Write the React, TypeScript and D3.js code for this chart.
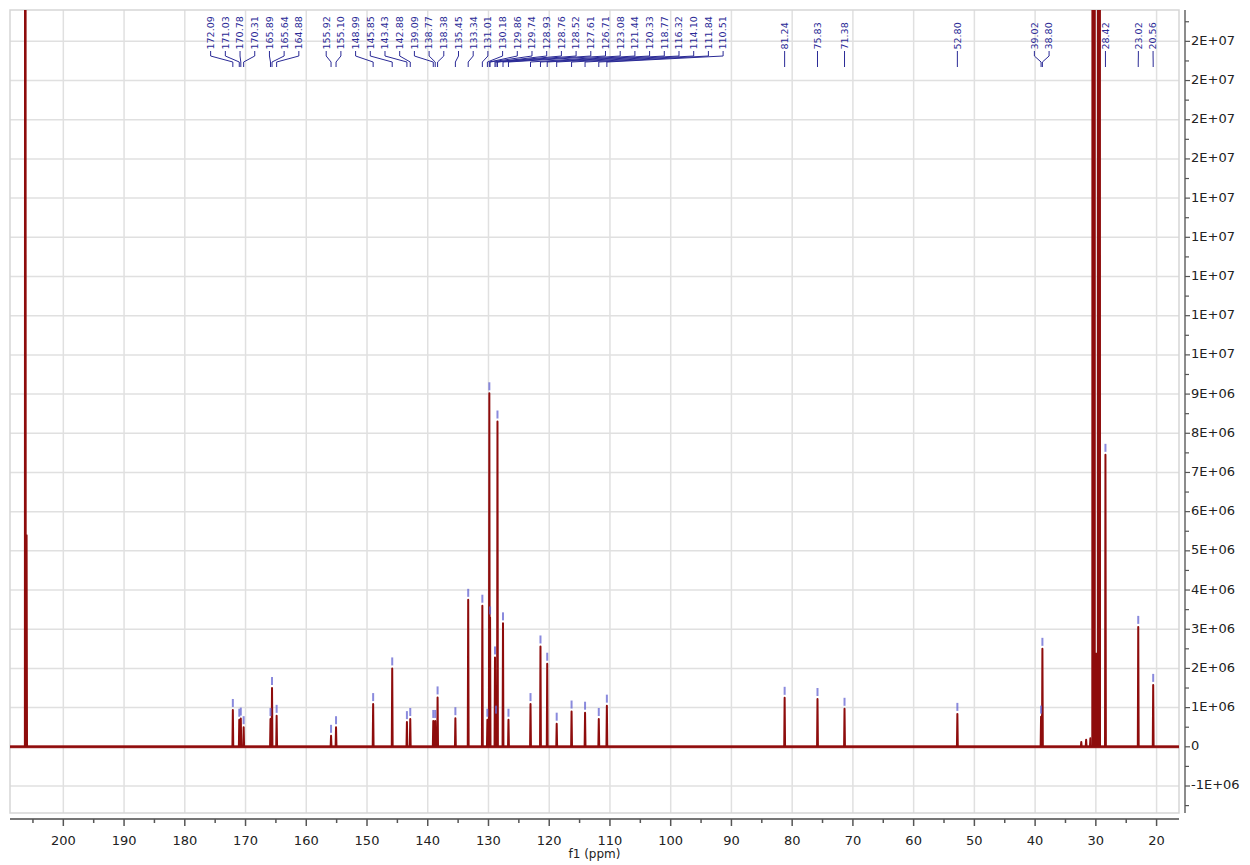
import React from 'react';
import * as d3 from 'd3';

// picked peaks (ppm) and their heights
const peakPpm = [
  172.09, 171.03, 170.78, 170.31, 165.89, 165.64, 164.88, 155.92, 155.10, 148.99,
  145.85, 143.43, 142.88, 139.09, 138.77, 138.38, 135.45, 133.34, 131.01, 130.18,
  129.86, 129.74, 128.93, 128.76, 128.52, 127.61, 126.71, 123.08, 121.44, 120.33,
  118.77, 116.32, 114.10, 111.84, 110.51, 81.24, 75.83, 71.38, 52.80, 39.02,
  38.80, 28.42, 23.02, 20.56,
];
const peakHeight = [
  0.94e6, 0.69e6, 0.72e6, 0.5e6, 0.71e6, 1.5e6, 0.79e6, 0.28e6, 0.5e6, 1.09e6,
  2.0e6, 0.63e6, 0.71e6, 0.66e6, 0.66e6, 1.26e6, 0.73e6, 3.75e6, 3.6e6, 0.69e6,
  9.02e6, 3.3e6, 2.28e6, 0.77e6, 8.3e6, 3.15e6, 0.69e6, 1.09e6, 2.56e6, 2.12e6,
  0.59e6, 0.9e6, 0.87e6, 0.71e6, 1.05e6, 1.25e6, 1.22e6, 0.97e6, 0.84e6, 0.77e6,
  2.5e6, 7.45e6, 3.06e6, 1.58e6,
];

// acetone-d6 carbonyl lines (unlabelled, off scale)
const solventPpm = [206.26, 206.05];
const solventHeight = [6.0e7, 5.4e6];

// acetone-d6 methyl multiplet outline: ppm / intensity vertices
const methylPpm = [30.75, 30.55, 29.97, 30.02, 29.82, 29.87, 29.30, 29.15];
const methylHeight = [0, 2e8, 2e8, 2.4e6, 2.4e6, 2e8, 2e8, 0];

// small impurity bumps
const minorPpm = [32.4, 31.6, 30.9];
const minorHeight = [1.2e5, 1.8e5, 2.2e5];

const xTickValues = [200, 190, 180, 170, 160, 150, 140, 130, 120, 110, 100, 90, 80, 70, 60, 50, 40, 30, 20];
const yTickValues = [-1e6, 0, 1e6, 2e6, 3e6, 4e6, 5e6, 6e6, 7e6, 8e6, 9e6, 1e7, 1.1e7, 1.2e7, 1.3e7, 1.4e7, 1.5e7, 1.6e7, 1.7e7, 1.8e7];

const W = 1250;
const H = 865;
const left = 10, right = 1179, top = 10, bottom = 813;
const font = "'DejaVu Sans', Verdana, sans-serif";
const specColor = '#8e0c0c';
const labelColor = '#2a2a96';

const fmtY = (v: number) => {
  if (v === 0) return '0';
  return v.toExponential(0).toUpperCase().replace(/E([+-])(\d+)$/, (_m, s, d) => 'E' + s + d.padStart(2, '0'));
};

// spread labels: clusters centred on their peak span, pushed right if they hit the previous cluster
function spreadLabels(xs: number[], gap: number, joinGap: number): number[] {
  const clusters: { idx: number[]; start: number }[] = [];
  xs.forEach((x, i) => {
    const last = clusters[clusters.length - 1];
    if (last && x < last.start + (last.idx.length - 1) * gap + joinGap) {
      last.idx.push(i);
    } else {
      clusters.push({ idx: [i], start: x });
    }
    const c = clusters[clusters.length - 1];
    const lo = xs[c.idx[0]];
    const hi = xs[c.idx[c.idx.length - 1]];
    c.start = (lo + hi) / 2 - ((c.idx.length - 1) * gap) / 2;
    const prev = clusters[clusters.length - 2];
    if (prev) c.start = Math.max(c.start, prev.start + prev.idx.length * gap);
  });
  const out: number[] = new Array(xs.length);
  clusters.forEach(c => c.idx.forEach((i, k) => { out[i] = c.start + k * gap; }));
  return out;
}

export default function App() {
  const x = d3.scaleLinear().domain([208.78, 16.31]).range([left, right]);
  const y = d3.scaleLinear().domain([-1.689e6, 18.8e6]).range([bottom, top]);

  // all single lines of the spectrum, left to right
  const peaks = [
    ...peakPpm.map((p, i) => ({ p, h: peakHeight[i] })),
    ...solventPpm.map((p, i) => ({ p, h: solventHeight[i] })),
    ...minorPpm.map((p, i) => ({ p, h: minorHeight[i] })),
  ].sort((a, b) => b.p - a.p);

  const hw = 0.07;
  const pts: [number, number][] = [[x.domain()[0], 0]];
  peaks.forEach(d => {
    pts.push([d.p + hw, 0], [d.p, d.h], [d.p - hw, 0]);
  });
  pts.push([x.domain()[1], 0]);
  const line = d3.line<[number, number]>().x(d => x(d[0])).y(d => y(d[1]));
  const methylPts = methylPpm.map((p, i) => [p, methylHeight[i]] as [number, number]);
  const methylArea = d3.area<[number, number]>().x(d => x(d[0])).y0(y(0)).y1(d => y(d[1]));

  const peakX = peakPpm.map(p => x(p));
  const labelX = spreadLabels(peakX, 14.7, 24);

  const minorX = d3.range(20, 206, 5).filter(v => v % 10 !== 0);
  const minorY = d3.range(-1.5e6, 1.86e7, 1e6);

  return (
    <svg width={W} height={H} style={{ position: 'absolute', left: 0, top: 0, background: '#fff' }} fontFamily={font}>
      <defs>
        <clipPath id="plot">
          <rect x={left} y={top} width={right - left} height={bottom - top} />
        </clipPath>
      </defs>

      {/* grid */}
      <g stroke="#e0e0e0" strokeWidth={1.5}>
        {xTickValues.map(v => <line key={'gx' + v} x1={x(v)} x2={x(v)} y1={top} y2={bottom} />)}
        {yTickValues.map(v => <line key={'gy' + v} x1={left} x2={right} y1={y(v)} y2={y(v)} />)}
      </g>
      <rect x={left} y={top} width={right - left} height={bottom - top} fill="none" stroke="#d6d6d6" strokeWidth={1.5} />

      {/* spectrum */}
      <g clipPath="url(#plot)">
        <line x1={left} x2={right} y1={y(0)} y2={y(0)} stroke="#a32525" strokeWidth={3} opacity={0.85} />
        <path d={line(pts) || ''} fill="none" stroke={specColor} strokeWidth={2} strokeLinejoin="round" />
        <path d={methylArea(methylPts) || ''} fill={specColor} stroke="none" />
        {peakPpm.map((p, i) => (
          <line key={'m' + i} x1={x(p)} x2={x(p)} y1={y(peakHeight[i]) - 11} y2={y(peakHeight[i]) - 3}
            stroke="#6464d2" strokeWidth={2} opacity={0.75} />
        ))}
      </g>

      {/* peak labels */}
      <g>
        {peakPpm.map((p, i) => (
          <g key={'l' + i}>
            <text transform={`translate(${labelX[i] + 3.4},49.5) rotate(-90)`} fontSize={9.5} fill={labelColor}>
              {p.toFixed(2)}
            </text>
            <polyline
              points={`${labelX[i]},51 ${labelX[i]},56 ${peakX[i]},62 ${peakX[i]},67`}
              fill="none" stroke={labelColor} strokeWidth={1} />
          </g>
        ))}
      </g>

      {/* x axis */}
      <g>
        <line x1={left} x2={right} y1={819} y2={819} stroke="#777" strokeWidth={2} />
        {xTickValues.map(v => (
          <g key={'xt' + v}>
            <line x1={x(v)} x2={x(v)} y1={819} y2={826} stroke="#555" strokeWidth={1.5} />
            <text x={x(v)} y={845} textAnchor="middle" fontSize={13} fill="#222">{v}</text>
          </g>
        ))}
        {minorX.map(v => (
          <line key={'xm' + v} x1={x(v)} x2={x(v)} y1={819} y2={823} stroke="#555" strokeWidth={1.5} />
        ))}
        <text x={(left + right) / 2} y={858} textAnchor="middle" fontSize={12} fill="#222">f1 (ppm)</text>
      </g>

      {/* y axis */}
      <g>
        <line x1={1185} x2={1185} y1={top} y2={bottom} stroke="#666" strokeWidth={1.5} />
        {yTickValues.map(v => (
          <g key={'yt' + v}>
            <line x1={1185} x2={1190} y1={y(v)} y2={y(v)} stroke="#555" strokeWidth={1.2} />
            <text x={1191} y={y(v)} dominantBaseline="middle" fontSize={13} fill="#222">{fmtY(v)}</text>
          </g>
        ))}
        {minorY.map(v => (
          <line key={'ym' + v} x1={1185} x2={1189} y1={y(v)} y2={y(v)} stroke="#555" strokeWidth={1.2} />
        ))}
      </g>
    </svg>
  );
}
